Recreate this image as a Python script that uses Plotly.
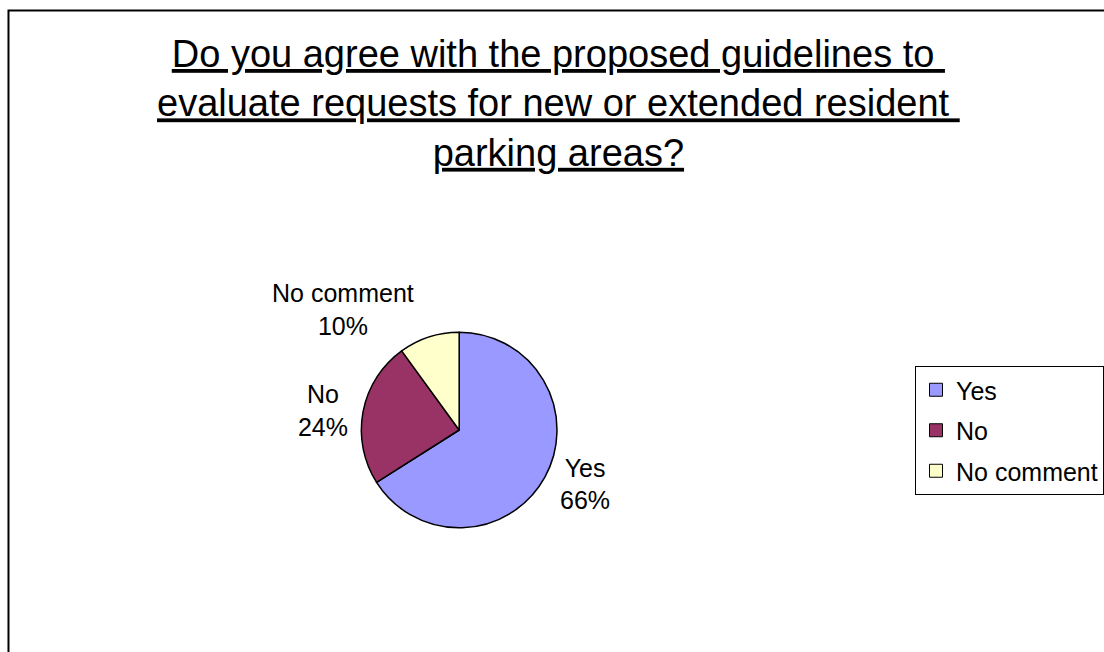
import plotly.graph_objects as go

categories = ["Yes", "No", "No comment"]
values = [66, 24, 10]
colors = ["#9999FF", "#993366", "#FFFFCC"]
title_lines = [
    "Do you agree with the proposed guidelines to\u00a0",
    "evaluate requests for new or extended resident\u00a0",
    "parking areas?",
]

W, H = 1104, 652
FONT = "Liberation Sans, Arial, sans-serif"


def px(x):
    return x / W


def py(y):
    return 1 - y / H


cx, cy, r = 460, 430, 98

fig = go.Figure()
fig.add_trace(go.Pie(
    labels=categories,
    values=values,
    marker=dict(colors=colors, line=dict(color="black", width=1.5)),
    sort=False,
    direction="clockwise",
    rotation=0,
    textposition="outside",
    texttemplate="%{label}<br>%{percent:.0%}",
    textfont=dict(family=FONT, size=25, color="black"),
    hoverinfo="label+percent",
    domain=dict(x=[px(cx - r), px(cx + r)], y=[py(cy + r), py(cy - r)]),
    automargin=False,
    showlegend=False,
))

# legend entries (one per category)
for name, col in zip(categories, colors):
    fig.add_trace(go.Scatter(
        x=[None], y=[None], mode="markers", name=name, legendgroup=name,
        marker=dict(symbol="square", size=13, color=col, line=dict(color="black", width=1)),
        hoverinfo="skip",
    ))

title_text = "<br>".join(
    '<span style="text-decoration:underline;text-decoration-thickness:2.5px">' + t + "</span>"
    for t in title_lines
)
fig.add_annotation(
    text=title_text,
    xref="paper", yref="paper", x=px(560), y=py(104),
    xanchor="center", yanchor="middle", showarrow=False,
    font=dict(family=FONT, size=38, color="black"),
)

fig.add_shape(type="rect", xref="paper", yref="paper",
              x0=px(8.5), x1=1.02, y0=-0.02, y1=py(10.5),
              line=dict(color="black", width=2), fillcolor="rgba(0,0,0,0)")

fig.update_layout(
    width=W, height=H,
    margin=dict(l=0, r=0, t=0, b=0),
    paper_bgcolor="white", plot_bgcolor="white",
    xaxis=dict(visible=False), yaxis=dict(visible=False),
    showlegend=True,
    legend=dict(
        x=px(917), y=py(366), xanchor="left", yanchor="top",
        bgcolor="white", bordercolor="black", borderwidth=1,
        font=dict(family=FONT, size=25, color="black"),
        itemwidth=30, tracegroupgap=5,
    ),
)

fig.write_html(
    "out.html",
    config={"displayModeBar": False},
    post_script="document.body.style.margin='0';document.body.style.overflow='hidden';",
)
